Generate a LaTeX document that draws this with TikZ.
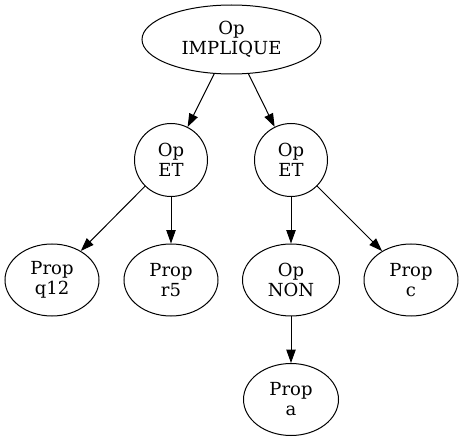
\documentclass[tikz,border=0pt]{standalone}
\usepackage{fontspec}
\setmainfont{DejaVu Serif}
\usetikzlibrary{shapes.geometric,arrows.meta}
\begin{document}
\begin{tikzpicture}[x=1pt,y=-1pt,
  every node/.style={font=\fontsize{18}{20}\selectfont, align=center, draw, line width=1pt, inner sep=0pt},
  ell/.style={ellipse, minimum width=94pt, minimum height=72pt},
  circ/.style={circle, minimum size=73pt},
  edge/.style={line width=1pt, -{Triangle[length=13.3pt,width=9.3pt]}}]
\useasboundingbox (0,0) rectangle (464,441);
\node[ell, minimum width=179pt, minimum height=69pt] (root) at (231.5,39.5) {Op\\IMPLIQUE};
\node[circ] (etl) at (171,160) {Op\\ET};
\node[circ] (etr) at (291,160) {Op\\ET};
\node[ell] (q12) at (52,280) {Prop\\q12};
\node[ell] (r5) at (171,280) {Prop\\r5};
\node[ell, minimum width=97pt] (non) at (291,280) {Op\\NON};
\node[ell] (c) at (411,280) {Prop\\c};
\node[ell, minimum width=95pt] (a) at (291,399.5) {Prop\\a};
\draw[edge] (root) -- (etl);
\draw[edge] (root) -- (etr);
\draw[edge] (etl) -- (q12);
\draw[edge] (etl) -- (r5);
\draw[edge] (etr) -- (non);
\draw[edge] (etr) -- (c);
\draw[edge] (non) -- (a);
\end{tikzpicture}
\end{document}
